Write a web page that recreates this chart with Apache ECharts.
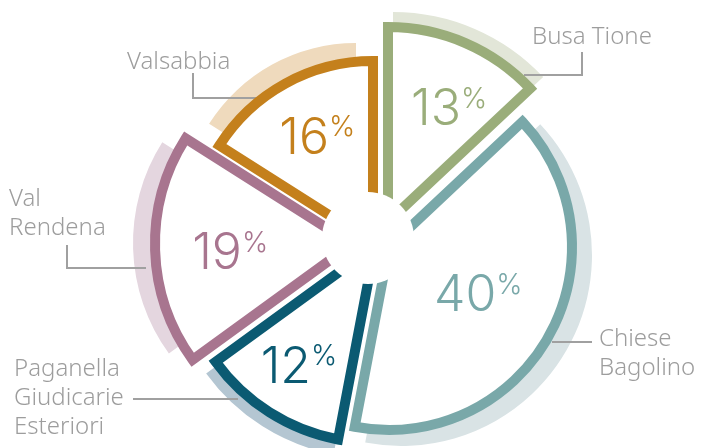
<!DOCTYPE html>
<html>
<head>
<meta charset="utf-8">
<title>Distribuzione per zona</title>
<script src="https://cdn.jsdelivr.net/npm/echarts@6/dist/echarts.min.js"></script>
<style>
  html, body { margin: 0; padding: 0; background: #fff; }
  #chart { width: 701px; height: 448px; }
</style>
</head>
<body>
<div id="chart"></div>
<script>
// data, clockwise from 12 o'clock
var categories = ['Busa Tione', 'Chiese Bagolino', 'Paganella Giudicarie Esteriori', 'Val Rendena', 'Valsabbia'];
var nameLabels = ['Busa Tione', 'Chiese\nBagolino', 'Paganella\nGiudicarie\nEsteriori', 'Val\nRendena', 'Valsabbia'];
var percentages = [13, 40, 12, 19, 16];

var colors = ['#9aad7a', '#79a8a9', '#0b5a72', '#a8758f', '#c4801c'];
var shadowColors = ['#e2e6d8', '#d9e3e5', '#b4c6d2', '#e4d6df', '#efdabd'];

// every slice is pulled out on its own, so each gets its own center / radius (px)
var sliceCenter = [[388, 222], [389, 247], [375, 246], [352, 244], [373, 243]];
var sliceRadius = [195, 183, 197, 197, 182];
var shadowCenter = [[393, 218], [401, 255], [372, 253], [321, 243], [356, 217]];
var shadowRadius = [206, 191, 205, 188, 174];
// percentage label: distance from slice tip and small turn off the mid angle (deg)
var labelDist = [131, 100, 140, 122, 122];
var labelTurn = [4.4, -2, 0.5, -1.2, 1.6];

// outer names: top-left of text and leader line
var namePos = [[532, 23], [599, 325], [14, 355], [9, 185], [127, 48]];
var leaders = [
  [[582, 52], [582, 75], [524, 75]],
  [[552, 342], [592, 342]],
  [[133, 399], [238, 399]],
  [[67, 245], [67, 268], [146, 268]],
  [[193, 73], [193, 98], [257, 98]]
];

var chart = echarts.init(document.getElementById('chart'));

var total = percentages.reduce(function (a, b) { return a + b; }, 0);
var series = [];
var acc = 0;
percentages.forEach(function (v, i) {
  var start = acc / total * 360;
  var mid = ((acc + v / 2) / total * 360 + labelTurn[i]) * Math.PI / 180;
  acc += v;
  var rest = {
    value: total - v,
    itemStyle: { color: 'transparent', borderWidth: 0 },
    label: { show: false }
  };
  // light arc behind the slice
  series.push({
    type: 'pie',
    silent: true,
    z: 1,
    clockwise: true,
    startAngle: 90 - start,
    center: shadowCenter[i],
    radius: [shadowRadius[i] - 30, shadowRadius[i]],
    label: { show: false },
    labelLine: { show: false },
    data: [{ name: categories[i], value: v, itemStyle: { color: shadowColors[i] } }, rest]
  });
  var cx = sliceCenter[i][0], cy = sliceCenter[i][1];
  series.push({
    type: 'pie',
    silent: true,
    z: 3,
    clockwise: true,
    startAngle: 90 - start,
    center: sliceCenter[i],
    radius: [0, sliceRadius[i]],
    labelLine: { show: false },
    label: {
      show: true,
      position: 'inside',
      formatter: '{n|' + v + '}{p|%}',
      rich: {
        n: { fontFamily: 'Inter', fontWeight: 300, fontSize: 50, lineHeight: 50, color: colors[i] },
        p: { fontFamily: 'Inter', fontWeight: 300, fontSize: 28, lineHeight: 20, verticalAlign: 'top', color: colors[i] }
      }
    },
    labelLayout: function () {
      return {
        x: cx + labelDist[i] * Math.sin(mid),
        y: cy - labelDist[i] * Math.cos(mid) + 4,
        align: 'center',
        verticalAlign: 'middle'
      };
    },
    data: [{
      name: categories[i],
      value: v,
      itemStyle: { color: '#fff', borderColor: colors[i], borderWidth: 10, borderJoin: 'miter' }
    }, rest]
  });
});

var graphics = [
  // hub in the middle hides the slice tips
  { type: 'circle', z: 4, shape: { cx: 368, cy: 238, r: 46 }, style: { fill: '#fff' } }
];
nameLabels.forEach(function (t, i) {
  graphics.push({
    type: 'polyline', z: 2,
    shape: { points: leaders[i] },
    style: { stroke: '#a0a0a0', lineWidth: 2, fill: null }
  });
  graphics.push({
    type: 'text', z: 5,
    x: namePos[i][0], y: namePos[i][1],
    style: {
      text: t,
      fill: '#9d9d9d',
      fontFamily: 'Noto Sans',
      fontWeight: 300,
      fontSize: 24,
      lineHeight: 29
    }
  });
});

chart.setOption({
  animation: false,
  series: series,
  graphic: graphics
});
</script>
</body>
</html>
